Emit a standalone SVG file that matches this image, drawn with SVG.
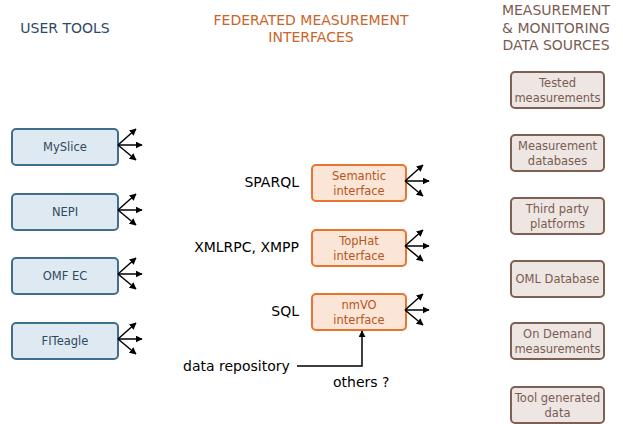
<svg xmlns="http://www.w3.org/2000/svg" width="623" height="424" viewBox="0 0 623 424">
<defs>
<marker id="ah" viewBox="0 0 10 10" refX="9" refY="5" markerWidth="7" markerHeight="7" markerUnits="userSpaceOnUse" orient="auto">
<path d="M0,0 L10,5 L0,10 z" fill="#000"/>
</marker>
</defs>
<style>
text{font-family:"DejaVu Sans","Liberation Sans",sans-serif}
.hdr{font-size:14px}
.ut rect{fill:#dfe9f1;stroke:#3f6f8c;stroke-width:2}
.ut text{fill:#2e4a5f;font-size:11.5px;text-anchor:middle}
.fi rect{fill:#fbe5d6;stroke:#e8742d;stroke-width:2}
.fi text{fill:#b5561e;font-size:11.5px;text-anchor:middle}
.ds rect{fill:#eee6e3;stroke:#7d5f53;stroke-width:2}
.ds text{fill:#7a5c50;font-size:11.5px;text-anchor:middle}
.lbl{font-size:14px;fill:#000}
.con path{stroke:#000;stroke-width:1.5;fill:none;marker-end:url(#ah)}
</style>
<rect width="623" height="424" fill="#fff"/>

<text class="hdr" x="65" y="33" text-anchor="middle" fill="#2e4a5f">USER TOOLS</text>
<text class="hdr" x="311" y="25" text-anchor="middle" fill="#c8652a">FEDERATED MEASUREMENT</text>
<text class="hdr" x="311" y="42" text-anchor="middle" fill="#c8652a">INTERFACES</text>
<text class="hdr" x="556" y="15" text-anchor="middle" fill="#7a5c50">MEASUREMENT</text>
<text class="hdr" x="556" y="33" text-anchor="middle" fill="#7a5c50">&amp; MONITORING</text>
<text class="hdr" x="556" y="50" text-anchor="middle" fill="#7a5c50">DATA SOURCES</text>

<g id="myslice" class="ut"><rect x="12" y="129" width="106" height="36" rx="4"/><text x="65" y="151">MySlice</text></g>
<g id="nepi" class="ut"><rect x="12" y="194" width="106" height="36" rx="4"/><text x="65" y="216">NEPI</text></g>
<g id="omfec" class="ut"><rect x="12" y="258" width="106" height="36" rx="4"/><text x="65" y="280">OMF EC</text></g>
<g id="fiteagle" class="ut"><rect x="12" y="323" width="106" height="36" rx="4"/><text x="65" y="345">FITeagle</text></g>

<g id="semantic" class="fi"><rect x="312" y="165" width="94" height="36" rx="4"/><text x="359" y="180">Semantic</text><text x="359" y="195">interface</text></g>
<g id="tophat" class="fi"><rect x="312" y="230" width="94" height="36" rx="4"/><text x="359" y="245">TopHat</text><text x="359" y="260">interface</text></g>
<g id="nmvo" class="fi"><rect x="312" y="294" width="94" height="36" rx="4"/><text x="359" y="309">nmVO</text><text x="359" y="324">interface</text></g>

<text class="lbl" x="299" y="187" text-anchor="end">SPARQL</text>
<text class="lbl" x="299" y="252" text-anchor="end">XMLRPC, XMPP</text>
<text class="lbl" x="299" y="316" text-anchor="end">SQL</text>
<text class="lbl" x="183" y="371">data repository</text>
<text class="lbl" x="333" y="387">others ?</text>

<g id="tested" class="ds"><rect x="511" y="72" width="93" height="36" rx="4"/><text x="557.5" y="87">Tested</text><text x="557.5" y="102">measurements</text></g>
<g id="measdb" class="ds"><rect x="511" y="135" width="93" height="36" rx="4"/><text x="557.5" y="150">Measurement</text><text x="557.5" y="165">databases</text></g>
<g id="thirdparty" class="ds"><rect x="511" y="198" width="93" height="36" rx="4"/><text x="557.5" y="213">Third party</text><text x="557.5" y="228">platforms</text></g>
<g id="omldb" class="ds"><rect x="511" y="261" width="93" height="36" rx="4"/><text x="557.5" y="283">OML Database</text></g>
<g id="ondemand" class="ds"><rect x="511" y="323" width="93" height="36" rx="4"/><text x="557.5" y="338">On Demand</text><text x="557.5" y="353">measurements</text></g>
<g id="toolgen" class="ds"><rect x="511" y="387" width="93" height="36" rx="4"/><text x="557.5" y="402">Tool generated</text><text x="557.5" y="417">data</text></g>

<g id="connectors" class="con">
<path d="M118,145 l18,-16"/><path d="M118,145 l24,0"/><path d="M118,145 l18,15"/>
<path d="M118,210 l18,-16"/><path d="M118,210 l24,0"/><path d="M118,210 l18,15"/>
<path d="M118,274 l18,-16"/><path d="M118,274 l24,0"/><path d="M118,274 l18,15"/>
<path d="M118,339 l18,-16"/><path d="M118,339 l24,0"/><path d="M118,339 l18,15"/>
<path d="M405,181 l18,-16"/><path d="M405,181 l24,0"/><path d="M405,181 l18,15"/>
<path d="M405,246 l18,-16"/><path d="M405,246 l24,0"/><path d="M405,246 l18,15"/>
<path d="M405,310 l18,-16"/><path d="M405,310 l24,0"/><path d="M405,310 l18,15"/>
<path d="M297,366 L362,366 L362,331"/>
</g>
</svg>
